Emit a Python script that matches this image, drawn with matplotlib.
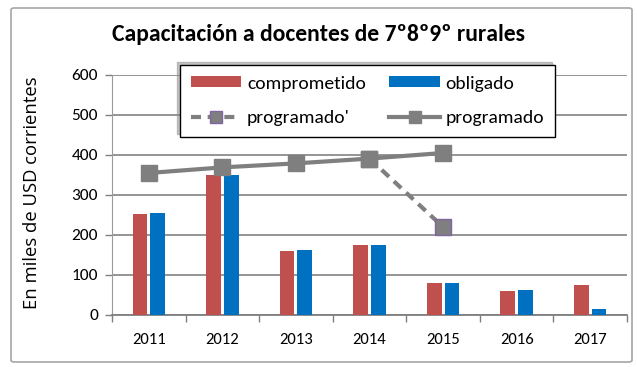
import numpy as np
import matplotlib.pyplot as plt
from matplotlib.patches import FancyBboxPatch

# datos (miles de USD corrientes)
anios = ["2011", "2012", "2013", "2014", "2015", "2016", "2017"]
comprometido = [253, 349, 161, 175, 79, 60, 75]
obligado = [255, 349, 163, 175, 79, 62, 14]
programado = [355, 369, 379, 391, 405]
programado_b = [391, 220]  # 2014 -> 2015

rojo = "#C0504D"
azul = "#0070C0"
gris = "#7F7F7F"
fuente = "Carlito"

fig = plt.figure(figsize=(6.37, 3.67), dpi=100)
ax = fig.add_axes([0.1758, 0.1417, 0.8085, 0.654])

x = np.arange(len(anios))
ancho = 0.2
ax.bar(x - 0.12, comprometido, ancho, color=rojo, label="comprometido", zorder=3)
ax.bar(x + 0.12, obligado, ancho, color=azul, label="obligado", zorder=3)

l2, = ax.plot(x[3:5], programado_b, color=gris, lw=3, ls=(0, (2.4, 1.6)),
              marker="s", ms=11, mfc=gris, mec="#8064A2", mew=1,
              label="programado'", zorder=4)
l1, = ax.plot(x[:5], programado, color=gris, lw=3, marker="s", ms=11,
              mfc=gris, mec=gris, label="programado", zorder=5)

ax.set_xlim(-0.5, 6.5)
ax.set_ylim(0, 600)
ax.set_yticks(range(0, 601, 100))
ax.set_xticks(x)
ax.set_xticklabels(anios, fontfamily=fuente, fontsize=12)
for t in ax.get_yticklabels():
    t.set_fontfamily(fuente)
    t.set_fontsize(12.5)
ax.set_xticks(np.arange(-0.5, 7, 1), minor=True)
ax.tick_params(axis="x", which="major", length=0, pad=13)
ax.tick_params(axis="x", which="minor", length=5, color=gris, width=1)
ax.tick_params(axis="y", length=5, color=gris, width=1, pad=5)

ax.grid(axis="y", color="#8C8C8C", lw=1.3, zorder=0)
for s in ["top", "right"]:
    ax.spines[s].set_visible(False)
ax.spines["left"].set_color("#9A9A9A")
ax.spines["bottom"].set_color(gris)
ax.spines["bottom"].set_linewidth(1.3)

ax.set_ylabel("En miles de USD corrientes", fontfamily="Open Sans",
              fontsize=13.3)
ax.yaxis.set_label_coords(-0.137, 0.51)

fig.text(0.5, 0.905, "Capacitación a docentes de 7º8º9º rurales",
         ha="center", va="center", fontfamily=fuente, fontweight="bold",
         fontsize=17)

barras = ax.containers
handles = [barras[0], l2, barras[1], l1]
leg = ax.legend(handles, [h.get_label() for h in handles], ncol=2,
                loc="upper left", bbox_to_anchor=(180 / 637, 1 - 65 / 367),
                bbox_transform=fig.transFigure, prop={"family": fuente, "size": 14},
                handlelength=2.6, handleheight=0.5, handletextpad=0.3,
                columnspacing=1.2, labelspacing=0.95, borderpad=0.55,
                borderaxespad=0, fancybox=False, framealpha=1, edgecolor="black",
                shadow={"ox": -2, "oy": 2, "color": "0.55", "alpha": 0.5})
leg.get_frame().set_linewidth(1)
leg.set_zorder(10)
# marcadores más pequeños en la leyenda
for h in leg.legend_handles:
    if hasattr(h, "set_markersize"):
        h.set_markersize(8)

# marco exterior
marco = FancyBboxPatch((11 / 637, 5 / 367), 621 / 637, 354 / 367,
                       boxstyle="round,pad=0,rounding_size=0.005",
                       transform=fig.transFigure, fill=False,
                       edgecolor="#A6A6A6", lw=1.2)
fig.patches.append(marco)

fig.savefig("out.png", dpi=100)
